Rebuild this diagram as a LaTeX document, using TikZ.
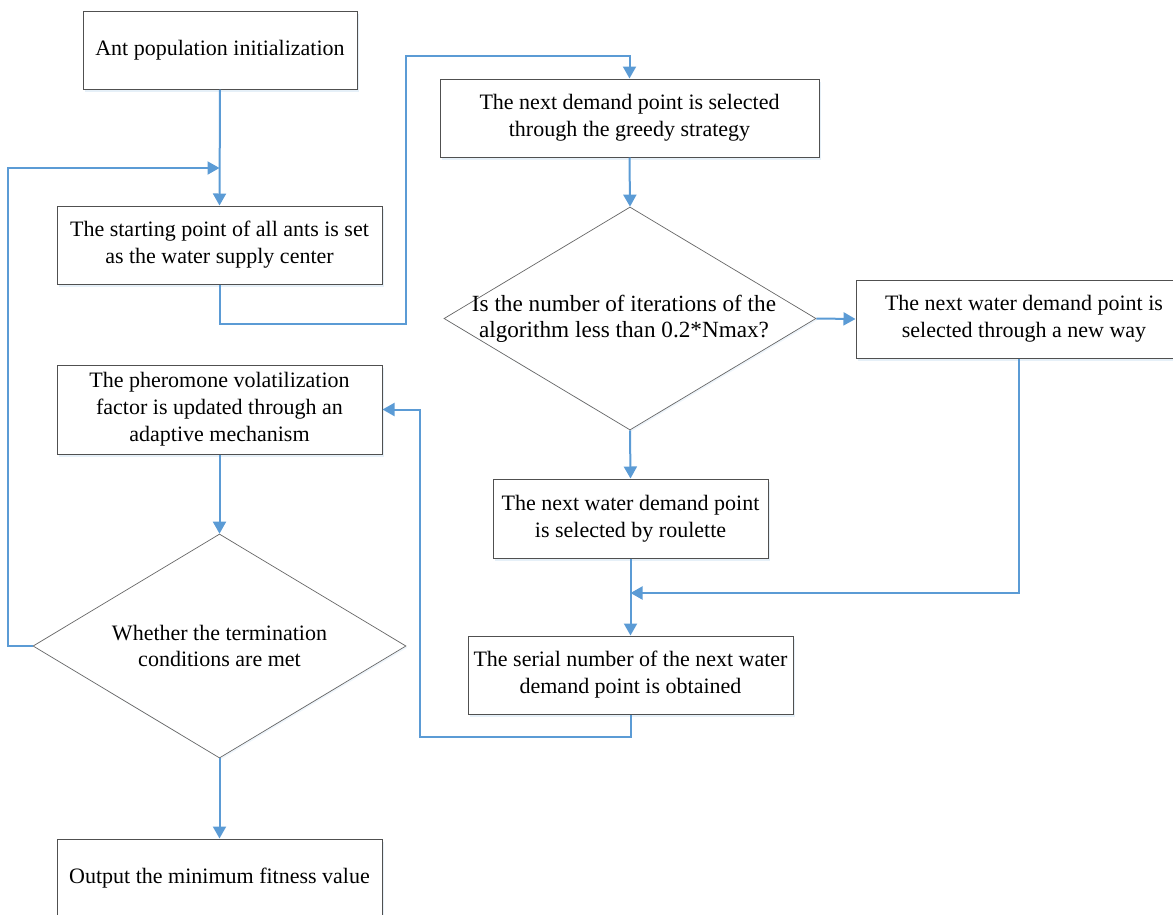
\documentclass[tikz,border=0pt]{standalone}
\usepackage{fontspec}
\setmainfont{Liberation Serif}
\usetikzlibrary{arrows.meta,shapes.geometric,shadows}
\definecolor{conn}{HTML}{5B9BD5}
\definecolor{boxline}{HTML}{505050}
\tikzset{
  stepbox/.style={draw=boxline, line width=1pt, fill=white, rectangle, inner sep=0pt,
    align=center, font=\fontsize{22}{27}\selectfont,
    drop shadow={shadow xshift=2pt, shadow yshift=-2.5pt, fill=conn!25, opacity=0.6}},
  decision/.style={draw=black!60, line width=0.7pt, fill=white, diamond, inner sep=0pt,
    drop shadow={shadow xshift=1.5pt, shadow yshift=-1.5pt, fill=conn!20, opacity=0.5}},
  txt/.style={align=center, inner sep=0pt, font=\fontsize{22}{26}\selectfont},
  flow/.style={draw=conn, line width=2pt, -{Triangle[width=13pt,length=12pt]}},
}
\begin{document}
\begin{tikzpicture}[x=1pt,y=-1pt]
\useasboundingbox (0,0) rectangle (1173,914);
\clip (0,0) rectangle (1173,914);
% left column
\node[stepbox, minimum width=274pt, minimum height=78pt] (init) at (220,50) {Ant population initialization};
\node[stepbox, minimum width=325pt, minimum height=78pt] (start) at (219.5,245) {The starting point of all ants is set\\as the water supply center};
\node[stepbox, minimum width=325pt, minimum height=89pt] (pher) at (219.5,409.5) {The pheromone volatilization\\factor is updated through an\\adaptive mechanism};
\node[decision, minimum width=373pt, minimum height=224pt] (term) at (219.5,646) {};
\node[txt] (termtxt) at (term) {Whether the termination\\conditions are met};
\node[stepbox, minimum width=325pt, minimum height=78pt] (out) at (219.5,878) {Output the minimum fitness value};
% right part
\node[stepbox, minimum width=379pt, minimum height=78pt] (greedy) at (629.5,118) {The next demand point is selected\\through the greedy strategy};
\node[decision, minimum width=372pt, minimum height=223pt] (iter) at (630,318.5) {};
\node[txt, font=\fontsize{23.2}{26}\selectfont] (itertxt) at (624,319) {Is the number of iterations of the\\algorithm less than 0.2*Nmax?};
\node[stepbox, minimum width=336pt, minimum height=78pt] (newway) at (1024,319) {The next water demand point is\\selected through a new way};
\node[stepbox, minimum width=275pt, minimum height=79pt] (roul) at (630.5,518.5) {The next water demand point\\is selected by roulette};
\node[stepbox, minimum width=325pt, minimum height=78pt] (serial) at (630.5,675) {The serial number of the next water\\demand point is obtained};
% junction coordinates
\coordinate (j1) at (219.5,168);
\coordinate (j2) at (630.5,593);
\coordinate (j3) at (1018.5,593);
% connectors
\draw[flow] (init.south) -- (start.north);
\draw[flow] (term.west) -- (8,646) -- (8,168) -- (j1);
\draw[flow] (start.south) -- (219.5,324) -- (406,324) -- (406,56) -- (629.5,56) -- (greedy.north);
\draw[flow] (greedy.south) -- (iter.north);
\draw[flow] (iter.east) -- (newway.west);
\draw[flow] (iter.south) -- (roul.north);
\draw[flow] (roul.south) -- (serial.north);
\draw[flow] (newway.south -| j3) -- (j3) -- (j2);
\draw[flow] (serial.south) -- (630.5,737) -- (420,737) -- (420,409.5) -- (pher.east);
\draw[flow] (pher.south) -- (term.north);
\draw[flow] (term.south) -- (out.north);
\end{tikzpicture}
\end{document}
